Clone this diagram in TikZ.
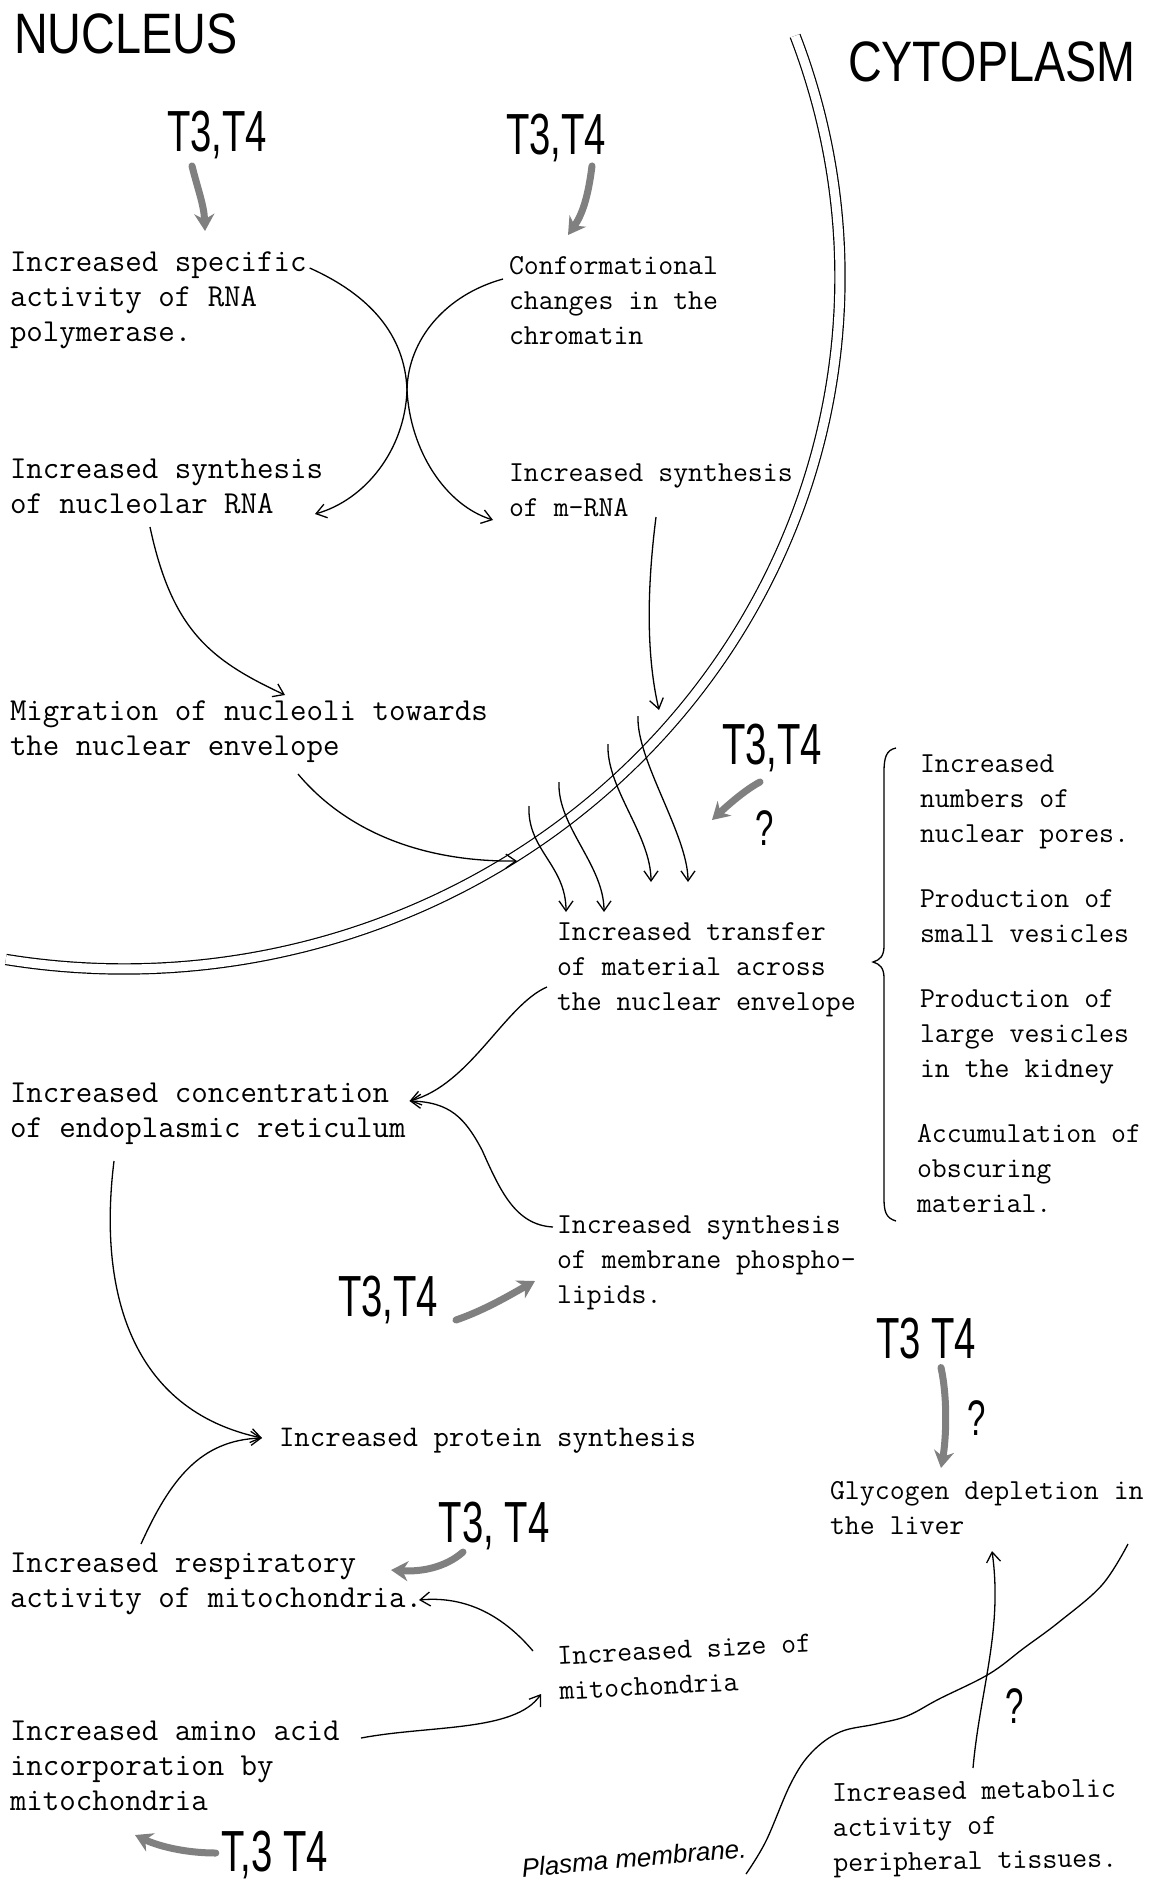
\documentclass[tikz,border=0pt]{standalone}
\usepackage{fontspec}
\usetikzlibrary{arrows.meta,calc}
\newfontfamily\headfont{Liberation Sans}[FakeStretch=0.82]
\newfontfamily\hormfont{Liberation Sans}[FakeStretch=0.66]
\newfontfamily\handfont{Liberation Sans}
\begin{document}
\begin{tikzpicture}[x=1pt,y=-1pt,
  every node/.style={inner sep=0pt,outer sep=0pt},
  twl/.style={anchor=north west,align=left,font=\ttfamily\fontsize{32}{35}\selectfont},
  twr/.style={anchor=north west,align=left,font=\ttfamily\fontsize{29}{35}\selectfont},
  head/.style={anchor=north west,font=\headfont\fontsize{57}{60}\selectfont},
  horm/.style={font=\hormfont\fontsize{58}{60}\selectfont},
  qm/.style={font=\hormfont\fontsize{50}{52}\selectfont},
  link/.style={line width=1.3pt,-{Straight Barb[length=10pt,width=14pt,line width=1.3pt]}},
  fat/.style={line width=7pt,draw=black!50,line cap=round,-{Stealth[length=17pt,width=20pt]}},
  membrane/.style={double,double distance=9pt,line width=1.2pt},
  thin/.style={line width=1.3pt}
]
\fill[white] (0,0) rectangle (1149,1886);
\useasboundingbox (0,0) rectangle (1149,1886);

% nuclear envelope
\draw[membrane] plot[domain=-20.4:99.5,samples=120,smooth] ({124+716*cos(\x)},{277+692*sin(\x)});

% region titles
\node[head] (nuc) at (14,14) {NUCLEUS};
\node[head] (cyt) at (848,42) {CYTOPLASM};

% hormone labels
\node[horm] (h1) at (217,135) {T3,T4};
\node[horm] (h2) at (556,138) {T3,T4};
\node[horm] (h3) at (772,748) {T3,T4};
\node[horm] (h4) at (388,1300) {T3,T4};
\node[horm] (h5) at (926,1339) {T3 T4};
\node[horm] (h6) at (494,1526) {T3, T4};
\node[horm] (h7) at (275,1855) {T,3 T4};

\node[qm] (q1) at (765,828) {?};
\node[qm] (q2) at (977,1418) {?};
\node[qm] (q3) at (1015,1706) {?};

% effects
\node[twl] (A) at (10,252) {Increased specific\\activity of RNA\\polymerase.};
\node[twr] (B) at (509,256) {Conformational\\changes in the\\chromatin};
\node[twl] (C) at (10,459) {Increased synthesis\\of nucleolar RNA};
\node[twr] (D) at (509,464) {Increased synthesis\\of m-RNA};
\node[twl] (E) at (10,701) {Migration of nucleoli towards\\the nuclear envelope};
\node[twr] (F) at (557,923) {Increased transfer\\of material across\\the nuclear envelope};
\node[twr] (G1) at (920,755) {Increased\\numbers of\\nuclear pores.};
\node[twr] (G2) at (920,890) {Production of\\small vesicles};
\node[twr] (G3) at (920,990) {Production of\\large vesicles\\in the kidney};
\node[twr] (G4) at (917,1124) {Accumulation of\\obscuring\\material.};
\node[twl] (H) at (10,1083) {Increased concentration\\of endoplasmic reticulum};
\node[twr] (I) at (557,1216) {Increased synthesis\\of membrane phospho-\\lipids.};
\node[twr,font=\ttfamily\fontsize{30}{35}\selectfont] (J) at (279,1428) {Increased protein synthesis};
\node[twr] (K) at (830,1481) {Glycogen depletion in\\the liver};
\node[twl] (L) at (10,1553) {Increased respiratory\\activity of mitochondria.};
\node[twr,rotate=3] (M) at (557,1647) {Increased size of\\mitochondria};
\node[twl] (N) at (10,1721) {Increased amino acid\\incorporation by\\mitochondria};
\node[twr,rotate=1] (O) at (832,1784) {Increased metabolic\\activity of\\peripheral tissues.};
\node[font=\handfont\itshape\fontsize{26}{28}\selectfont,rotate=5] (pm) at (634,1858) {Plasma membrane.};

% brace grouping the envelope changes
\draw[thin] (896,748) .. controls (886,750) and (884,758) .. (884,772) -- (884,946)
  .. controls (884,956) and (880,960) .. (873,962) .. controls (880,964) and (884,968) .. (884,978)
  -- (884,1198) .. controls (884,1212) and (886,1218) .. (896,1221);

% plasma membrane
\coordinate (pmbot) at (746,1874);
\draw[thin] plot[smooth,tension=0.6] coordinates {(pmbot) (766,1841) (791,1783) (812,1752)
  (840,1732) (876,1724) (907,1716) (939,1699) (989,1674) (1024,1648) (1059,1622) (1102,1585) (1128,1544)};

% thick hormone arrows
\draw[fat] ([shift={(-25,7)}]h1.south) .. controls (198,190) and (204,205) .. ([shift={(195,-21)}]A.north west);
\draw[fat] ([shift={(36,4)}]h2.south) .. controls (588,198) and (582,215) .. ([shift={(59,-21)}]B.north west);
\coordinate (h3t) at (712,820);
\draw[fat] ([shift={(-12,10)}]h3.south) .. controls (745,790) and (728,805) .. (h3t);
\draw[fat] ([shift={(18,20)}]h4.east) .. controls (485,1310) and (510,1295) .. ([shift={(-22,65)}]I.north west);
\draw[fat] ([shift={(15,8)}]h5.south) .. controls (948,1400) and (946,1440) .. ([shift={(111,-13)}]K.north west);
\draw[fat] ([shift={(-31,26)}]h6.center) .. controls (445,1568) and (420,1572) .. ([shift={(381,17)}]L.north west);
\draw[fat] ([shift={(-6,-2)}]h7.west) .. controls (185,1853) and (158,1846) .. ([shift={(125,114)}]N.north west);

% nucleus pathways
\draw[link] ([shift={(3,16)}]A.north east) .. controls (370,295) and (405,335) .. (407,390)
  .. controls (410,450) and (445,505) .. ([shift={(-16,56)}]D.north west);
\draw[link] ([shift={(-6,23)}]B.north west) .. controls (445,295) and (408,340) .. (407,390)
  .. controls (405,450) and (365,500) .. ([shift={(305,55)}]C.north west);
\draw[link] ([shift={(140,68)}]C.north west) .. controls (172,630) and (210,660) .. ([shift={(275,-6)}]E.north west);
\draw[link] ([shift={(147,53)}]D.north west) .. controls (648,580) and (645,650) .. ([shift={(102,-213)}]F.north west);
\draw[link] ([shift={(288,73)}]E.north west) .. controls (345,830) and (420,862) .. ([shift={(-40,-62)}]F.north west);

% transfer across the envelope
\coordinate (p1) at (529,806);
\coordinate (p2) at (559,782);
\coordinate (p3) at (608,744);
\coordinate (p4) at (638,716);
\draw[link] (p1) .. controls (527,850) and (566,865) .. ([shift={(9,-11)}]F.north west);
\draw[link] (p2) .. controls (557,826) and (604,865) .. ([shift={(47,-11)}]F.north west);
\draw[link] (p3) .. controls (606,788) and (651,835) .. ([shift={(94,-41)}]F.north west);
\draw[link] (p4) .. controls (636,760) and (688,835) .. ([shift={(131,-41)}]F.north west);

% cytoplasm pathways
\draw[link] ([shift={(-10,64)}]F.north west) .. controls (505,1005) and (470,1085) .. ([shift={(4,18)}]H.north east);
\draw[link] ([shift={(-4,11)}]I.north west) .. controls (515,1225) and (500,1190) .. (482,1150)
  .. controls (465,1118) and (450,1102) .. ([shift={(4,18)}]H.north east);
\draw[link] ([shift={(104,78)}]H.north west) .. controls (98,1290) and (130,1410) .. ([shift={(-17,10)}]J.north west);
\draw[link] ([shift={(131,-9)}]L.north west) .. controls (170,1480) and (200,1440) .. ([shift={(-17,10)}]J.north west);
\draw[link] ([shift={(-24,4)}]M.north west) .. controls (500,1612) and (462,1596) .. ([shift={(409,47)}]L.north west);
\draw[link] ([shift={(351,17)}]N.north west) .. controls (430,1725) and (515,1732) .. ([shift={(-16,47)}]M.north west);
\draw[link] ([shift={(141,-16)}]O.north west) .. controls (980,1690) and (1003,1630) .. ([shift={(162,70)}]K.north west);
\end{tikzpicture}
\end{document}
